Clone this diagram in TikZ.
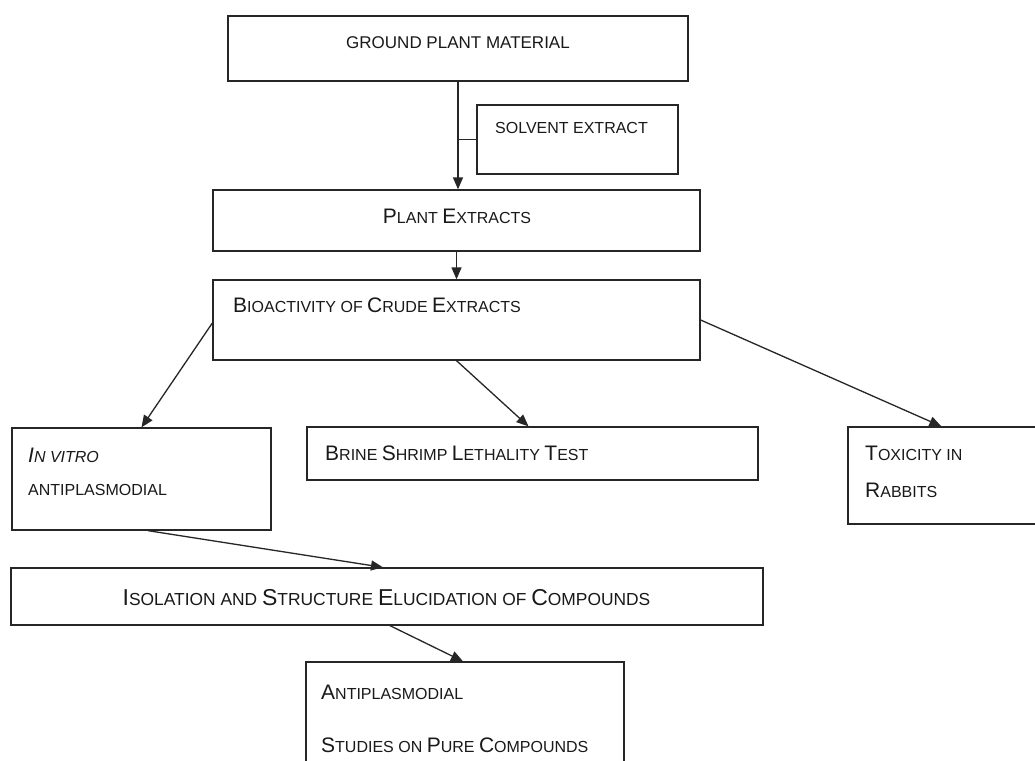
\documentclass[tikz,border=0pt]{standalone}
\usepackage{fontspec}
\setmainfont{Liberation Sans}
\usetikzlibrary{arrows.meta}
\newcommand\bg[1]{{\fontsize{21}{24}\selectfont #1}}
\newcommand\bgl[1]{{\fontsize{23}{26}\selectfont #1}}
\begin{document}
\begin{tikzpicture}[x=1pt,y=-1pt,
  box/.style={draw=black!85, line width=1.3pt, inner sep=0pt, rectangle},
  txt/.style={inner sep=0pt, font=\fontsize{16}{19}\selectfont, text=black!90},
  arr/.style={draw=black!85, line width=1.3pt, -{Triangle[length=12pt,width=10pt]}},
  ln/.style={draw=black!85, line width=1.3pt}]
\useasboundingbox (0,0) rectangle (1035,760);
\clip (0,0) rectangle (1035,760);
\fill[white] (0,0) rectangle (1035,760);
% boxes
\node[box, minimum width=460pt, minimum height=65pt] (gpm) at (458,48.5) {};
\node[box, minimum width=201pt, minimum height=69pt] (solv) at (577.5,139.5) {};
\node[box, minimum width=487pt, minimum height=61pt] (pe) at (456.5,220.5) {};
\node[box, minimum width=487pt, minimum height=80pt] (bio) at (456.5,320) {};
\node[box, minimum width=259pt, minimum height=102pt] (iv) at (141.5,479) {};
\node[box, minimum width=451pt, minimum height=53pt] (bs) at (532.5,453.5) {};
\node[box, minimum width=232pt, minimum height=97pt] (tox) at (964,475.5) {};
\node[box, minimum width=752pt, minimum height=57pt] (iso) at (387,596.5) {};
\node[box, minimum width=318pt, minimum height=138pt] (pur) at (465,731) {};
% texts
\node[txt, font=\fontsize{17}{20}\selectfont] (tgpm) at (458,43) {GROUND PLANT MATERIAL};
\node[txt, anchor=west] (tsolv) at (495,128) {SOLVENT EXTRACT};
\node[txt] (tpe) at (457,216) {\bg{P}LANT \bg{E}XTRACTS};
\node[txt, anchor=west] (tbio) at (233,305) {\bg{B}IOACTIVITY OF \bg{C}RUDE \bg{E}XTRACTS};
\node[txt, anchor=west] (tiv1) at (28,455) {\itshape \bg{I}N VITRO};
\node[txt, anchor=west] (tiv2) at (28,490) {ANTIPLASMODIAL};
\node[txt, anchor=west] (tbs) at (325,453) {\bg{B}RINE \bg{S}HRIMP \bg{L}ETHALITY \bg{T}EST};
\node[txt, anchor=west] (ttox1) at (865,453) {\bg{T}OXICITY IN};
\node[txt, anchor=west] (ttox2) at (865,490) {\bg{R}ABBITS};
\node[txt, font=\fontsize{17.4}{20}\selectfont] (tiso) at (386.5,598) {\bgl{I}SOLATION AND \bgl{S}TRUCTURE \bgl{E}LUCIDATION OF \bgl{C}OMPOUNDS};
\node[txt, anchor=west] (tpur1) at (321,692) {\bg{A}NTIPLASMODIAL};
\node[txt, anchor=west] (tpur2) at (321,745) {\bg{S}TUDIES ON \bg{P}URE \bg{C}OMPOUNDS};
% connectors
\draw[arr] (gpm.south) -- (gpm.south |- pe.north);
\draw[ln] (solv.west) -- (solv.west -| gpm.south);
\draw[arr] (pe.south) -- (bio.north);
\draw[arr] ([yshift=-3pt]bio.west) -- (iv.north);
\draw[arr] (bio.south) -- ([xshift=-4pt]bs.north);
\draw[arr] (bio.east) -- ([xshift=94pt]tox.north west);
\draw[arr] ([xshift=6.5pt]iv.south) -- ([xshift=-4pt]iso.north);
\draw[arr] ([xshift=3pt]iso.south) -- ([xshift=-2pt]pur.north);
\end{tikzpicture}
\end{document}
